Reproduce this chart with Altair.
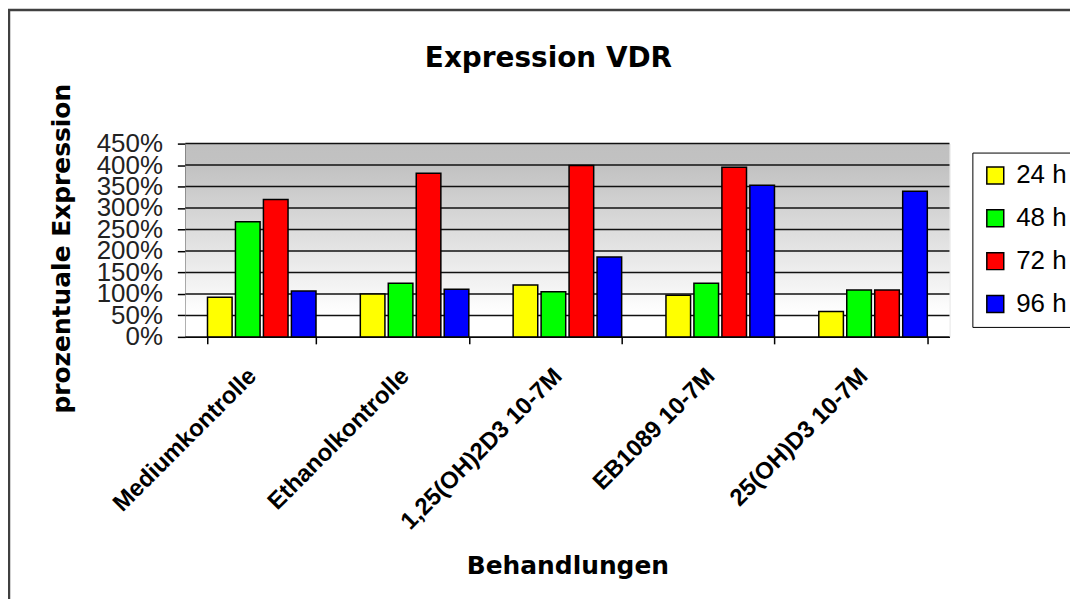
import altair as alt
import pandas as pd

categories = ["Mediumkontrolle", "Ethanolkontrolle", "1,25(OH)2D3 10-7M", "EB1089 10-7M", "25(OH)D3 10-7M"]
series = ["24 h", "48 h", "72 h", "96 h"]
values_24h = [92, 100, 121, 97, 59]
values_48h = [268, 125, 105, 125, 109]
values_72h = [320, 381, 399, 395, 109]
values_96h = [107, 111, 186, 353, 339]
colors = ["#FFFF00", "#00FF00", "#FF0000", "#0000FF"]
y_ticks = [0, 50, 100, 150, 200, 250, 300, 350, 400, 450]

rows = []
for s, vals in zip(series, [values_24h, values_48h, values_72h, values_96h]):
    for c, v in zip(categories, vals):
        rows.append({"Behandlung": c, "Zeit": s, "Wert": v})
df = pd.DataFrame(rows)
grid_df = pd.DataFrame({"Wert": y_ticks})

y_scale = alt.Scale(domain=[0, 450], nice=False)
y_axis = alt.Axis(
    values=y_ticks, labelExpr="datum.value + '%'",
    title="prozentuale Expression", grid=False,
    labelFont="Liberation Sans", labelFontSize=26, labelColor="#222",
    labelOverlap=False, labelFlush=False, labelPadding=15,
    tickSize=8, tickColor="black", tickWidth=1.5,
    domainColor="black", domainWidth=1.5,
    titleFont="DejaVu Sans", titleFontSize=25, titleFontWeight="bold",
    titleColor="black", titleBaseline="alphabetic", titleX=-116, titleY=105,
)

background = alt.Chart(pd.DataFrame({"a": [0]})).mark_rect(
    color=alt.LinearGradient(
        gradient="linear", x1=0, x2=0, y1=0, y2=1,
        stops=[
            alt.GradientStop(color="#c0c0c0", offset=0),
            alt.GradientStop(color="#c2c2c2", offset=0.12),
            alt.GradientStop(color="#ffffff", offset=0.88),
            alt.GradientStop(color="#ffffff", offset=1),
        ],
    )
).encode(x=alt.value(0), x2=alt.value("width"), y=alt.value(0), y2=alt.value("height"))

gridlines = alt.Chart(grid_df).mark_rule(color="#111", strokeWidth=1.5).encode(
    y=alt.Y("Wert:Q", scale=y_scale, axis=y_axis),
    x=alt.value(0), x2=alt.value("width"),
)

border = alt.Chart(pd.DataFrame({"a": [0]})).mark_rect(
    fillOpacity=0, stroke="#404040", strokeWidth=2.5
).encode(
    x=alt.value(-177), x2=alt.value(1000), y=alt.value(-134), y2=alt.value(700)
)

bars = alt.Chart(df).mark_bar(stroke="black", strokeWidth=1.5).encode(
    x=alt.X(
        "Behandlung:N",
        sort=categories,
        scale=alt.Scale(paddingInner=0.29, paddingOuter=0.145),
        axis=alt.Axis(
            title="Behandlungen",
            labelAngle=-45, labelAlign="right", labelBaseline="top",
            labelFont="Liberation Sans", labelFontSize=24, labelFontWeight="bold",
            labelColor="black", labelOffset=-18, labelPadding=20, labelLimit=400,
            tickBand="extent", tickSize=7, tickColor="black", tickWidth=1.5,
            domainColor="black", domainWidth=1.5, grid=False,
            titleFont="DejaVu Sans", titleFontSize=25, titleFontWeight="bold",
            titleColor="black", titleBaseline="alphabetic", titleY=238,
        ),
    ),
    xOffset=alt.XOffset("Zeit:N", sort=series, scale=alt.Scale(paddingInner=0.12, paddingOuter=0)),
    y=alt.Y("Wert:Q", scale=y_scale, axis=y_axis),
    color=alt.Color(
        "Zeit:N", sort=series,
        scale=alt.Scale(domain=series, range=colors),
        legend=alt.Legend(
            title=None, orient="none", legendX=790, legendY=9, direction="vertical",
            symbolType="square", symbolSize=289, symbolStrokeColor="black", symbolStrokeWidth=1.5,
            labelFont="Liberation Sans", labelFontSize=26, labelColor="black", labelOffset=8,
            rowPadding=17, padding=10, strokeColor="black", fillColor="white",
        ),
    ),
)

chart = alt.layer(background, gridlines, border, bars).properties(
    width=767,
    height=194,
    padding={"left": 178, "top": 135, "right": 121, "bottom": 262},
    autosize=alt.AutoSizeParams(type="none"),
    title=alt.TitleParams(
        "Expression VDR", font="DejaVu Sans", fontSize=28, fontWeight="bold",
        color="black", anchor="middle", dx=-19, offset=0, dy=86, baseline="alphabetic",
    ),
).configure_view(
    stroke="#333",
    strokeWidth=1.5,
).configure(background="white")

chart.save("out.html", embed_options={"renderer": "svg", "actions": False})
